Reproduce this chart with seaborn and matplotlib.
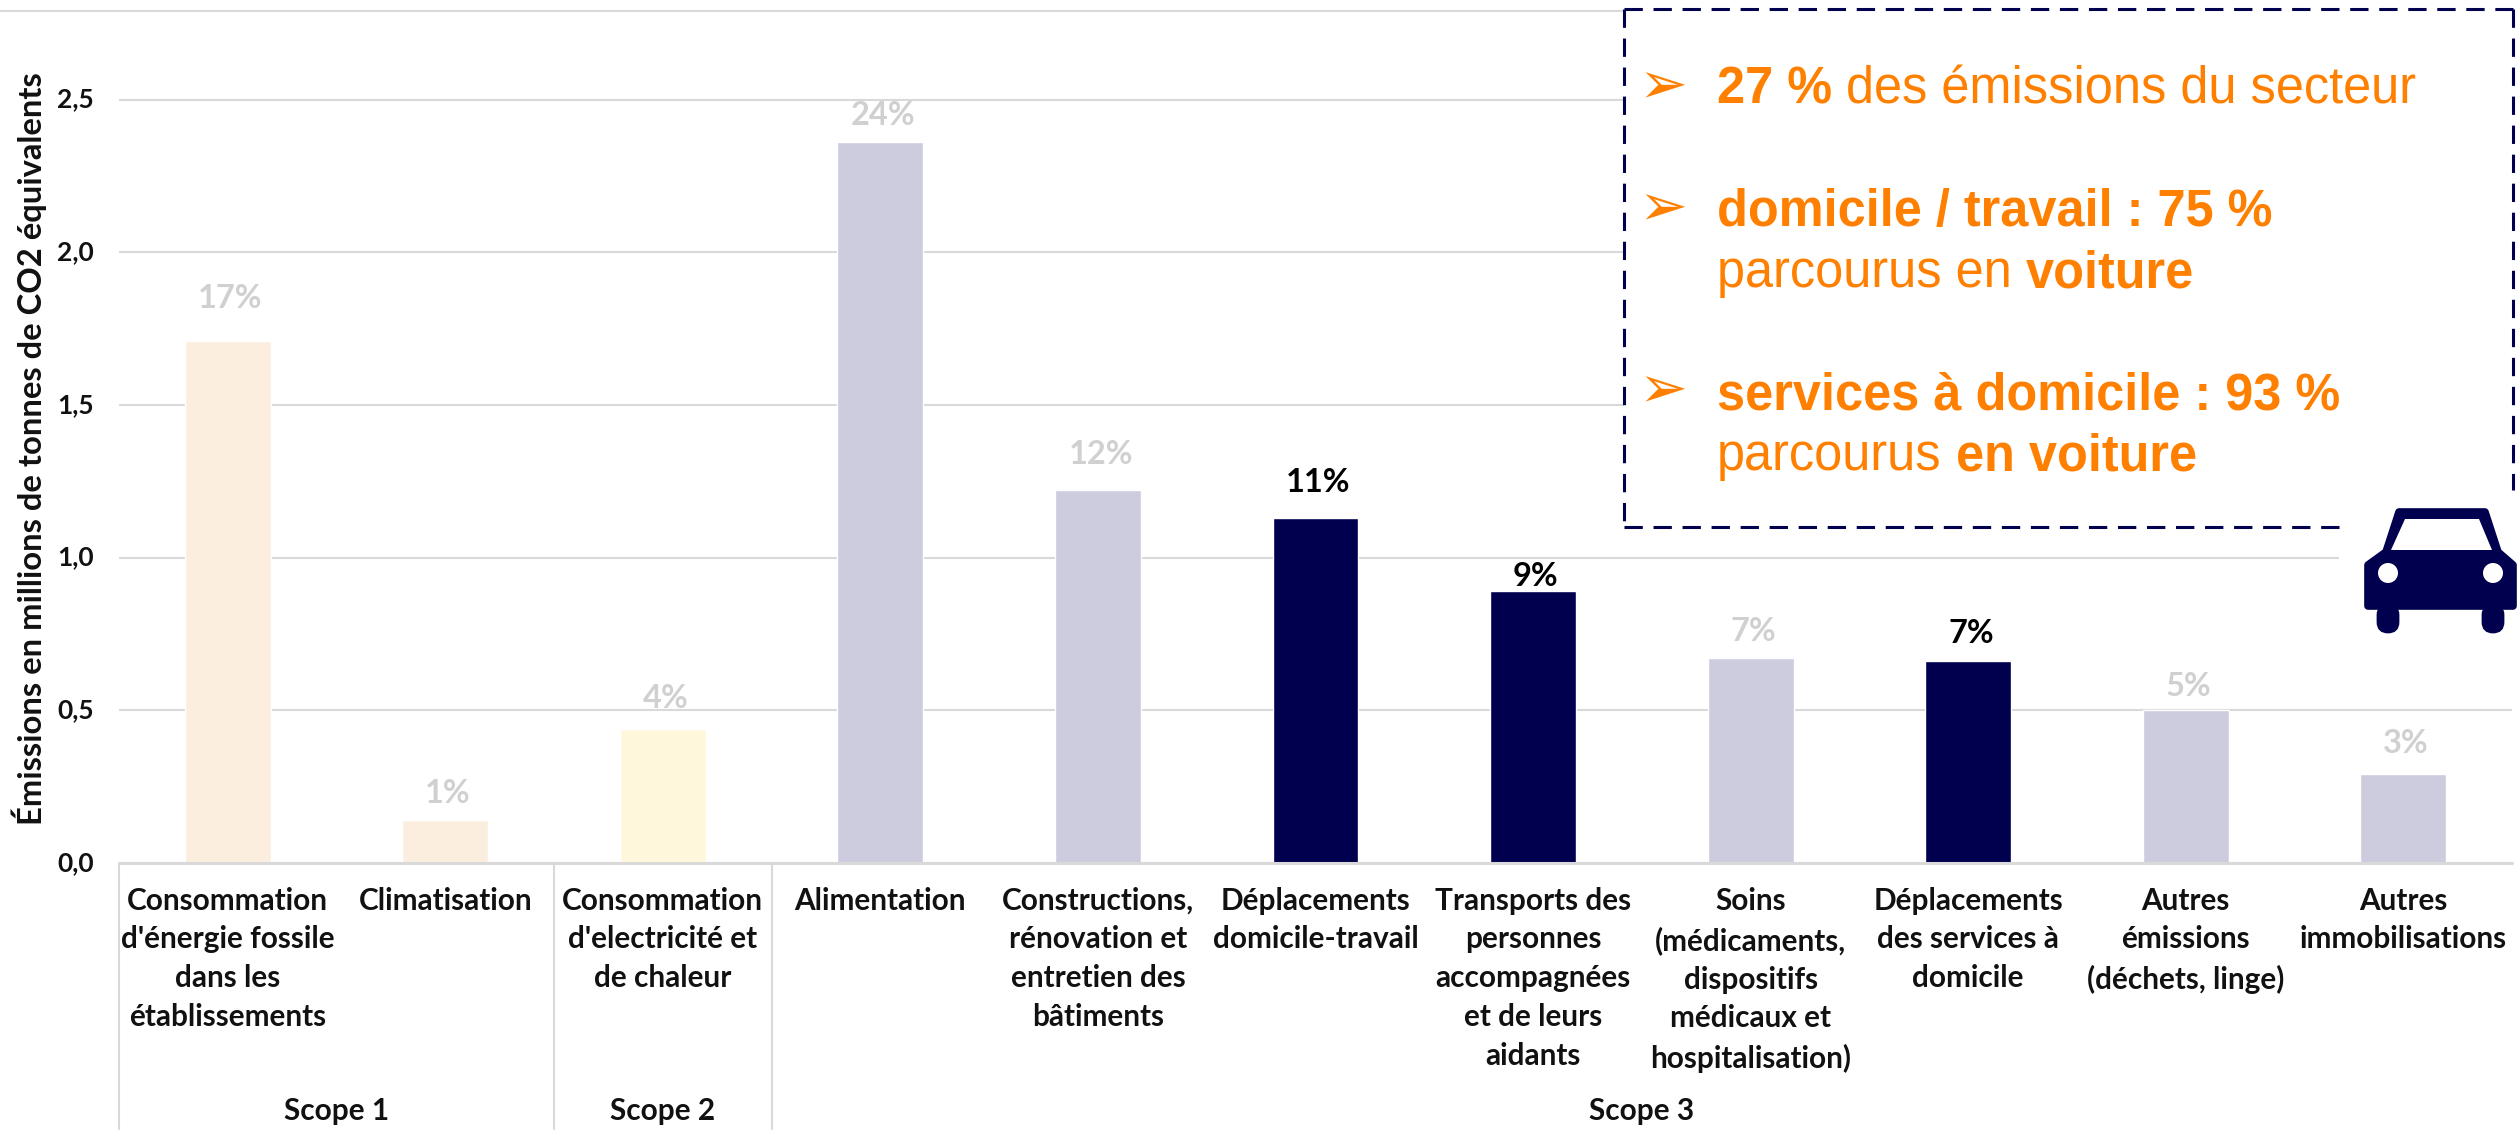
import matplotlib
matplotlib.use("Agg")
import matplotlib.pyplot as plt
import seaborn as sns
import pandas as pd
from matplotlib.lines import Line2D
from matplotlib.patches import Rectangle, Polygon, Circle, FancyBboxPatch
from matplotlib.transforms import Affine2D, ScaledTranslation

categories = ["Consommation\nd'énergie fossile\ndans les\nétablissements", "Climatisation",
              "Consommation\nd'electricité et\nde chaleur", "Alimentation",
              "Constructions,\nrénovation et\nentretien des\nbâtiments",
              "Déplacements\ndomicile-travail",
              "Transports des\npersonnes\naccompagnées\net de leurs\naidants",
              "Soins\n(médicaments,\ndispositifs\nmédicaux et\nhospitalisation)",
              "Déplacements\ndes services à\ndomicile", "Autres\némissions\n(déchets, linge)",
              "Autres\nimmobilisations"]
values = [1.71, 0.14, 0.44, 2.36, 1.22, 1.13, 0.89, 0.67, 0.66, 0.50, 0.29]
shares = ["17%", "1%", "4%", "24%", "12%", "11%", "9%", "7%", "7%", "5%", "3%"]
bar_colors = ["#FCEEDF", "#FCEEDF", "#FFF7DC", "#CDCCDF", "#CDCCDF", "#00004F", "#00004F",
              "#CDCCDF", "#00004F", "#CDCCDF", "#CDCCDF"]
label_colors = ["#D0D0D0", "#D0D0D0", "#D0D0D0", "#D0D0D0", "#D0D0D0", "#000000", "#000000",
                "#D0D0D0", "#000000", "#D0D0D0", "#D0D0D0"]
label_gaps = [42, 27, 30, 27, 36, 35, 15, 27, 28, 24, 31]
scopes = ["Scope 1", "Scope 2", "Scope 3"]
scope_spans = [(0, 2), (2, 3), (3, 11)]
yticks = [0, 0.5, 1.0, 1.5, 2.0, 2.5]
ylabel = "Émissions en millions de tonnes de CO2 équivalents"

W, H = 2517, 1132
GRID = "#D9D9D9"
NAVY = "#00004F"
ORANGE = "#FF8000"
FONT = "Lato"

sns.set_theme(style="white")
plt.rcParams["font.family"] = [FONT, "DejaVu Sans"]

fig = plt.figure(figsize=(W / 100, H / 100), dpi=100, facecolor="white")
L, R, T, B = 119, 2512, 11, 863
ax = fig.add_axes([L / W, 1 - B / H, (R - L) / W, (B - T) / H])
df = pd.DataFrame({"cat": categories, "val": values})
sns.barplot(data=df, x="cat", y="val", hue="cat", palette=bar_colors, width=0.395,
            legend=False, ax=ax, saturation=1, zorder=3)
ax.set_xlim(-0.5, len(categories) - 0.5)
ax.set_ylim(0, (B - T) / 305.4)
ax.set_xlabel("")
ax.set_ylabel("")
for s in ax.spines.values():
    s.set_visible(False)
ax.set_yticks(yticks)
ax.set_yticklabels([f"{v:.1f}".replace(".", ",") for v in yticks], fontsize=19, fontweight="bold",
                   color="#111111")
ax.yaxis.grid(True, color=GRID, lw=1.5)
ax.set_axisbelow(True)
ax.tick_params(axis="y", length=0, pad=18)
for lab in ax.get_yticklabels():
    lab.set_transform(lab.get_transform() + ScaledTranslation(0, 2 / 100, fig.dpi_scale_trans))
ax.set_xticks(range(len(categories)))
ax.set_xticklabels(categories, fontsize=21.4, fontweight="bold", color="#111111", linespacing=1.47)
ax.tick_params(axis="x", length=0, pad=17)

px = Affine2D().scale(1, -1).translate(0, H)

for i, (v, s, c, g) in enumerate(zip(values, shares, label_colors, label_gaps)):
    ax.annotate(s, (i, v), xytext=(2, g * 0.72), textcoords="offset points", ha="center", va="center",
                fontsize=23.5, fontweight="bold", color=c, zorder=4)

def hline(x0, y0, x1, y1, **kw):
    fig.add_artist(Line2D([x0, x1], [y0, y1], transform=px, **kw))

hline(0, 11, 1624, 11, color=GRID, lw=1.5)
hline(L, 863, R, 863, color=GRID, lw=2.2)
for i in [0, 2, 3]:
    x = L + i * (R - L) / 11
    hline(x, 863, x, 1129, color=GRID, lw=1.5)
for name, (a, b) in zip(scopes, scope_spans):
    ax.annotate(name, ((a + b) / 2 - 0.5, 0), xytext=(0, (863 - 1111) * 0.72), textcoords="offset points",
                ha="center", va="center", fontsize=21.4, fontweight="bold", color="#111111",
                annotation_clip=False)

fig.text(29 / W, 1 - 449 / H, ylabel, rotation=90, ha="center", va="center", fontsize=23.6,
         fontweight="bold", color="#111111")

# callout
fig.add_artist(Rectangle((1624, 9), 893, 518, transform=px, fc="white", ec="none", zorder=5))
fig.add_artist(Rectangle((2339, 490), 178, 150, transform=px, fc="white", ec="none", zorder=5))
dash = dict(color=NAVY, lw=2.2, linestyle=(0, (6, 3.5)), zorder=6)
hline(1624, 9, 2513, 9, **dash)
hline(1624, 9, 1624, 527, **dash)
hline(1624, 527, 2339, 527, **dash)
hline(2513, 9, 2513, 490, **dash)

renderer = fig.canvas.get_renderer()
def runs(x, y, parts):
    for txt, bold in parts:
        t = fig.text(x / W, 1 - y / H, txt, fontsize=36.4, family="Liberation Sans",
                     fontweight="bold" if bold else "normal", color=ORANGE, va="baseline", ha="left", zorder=7)
        x += t.get_window_extent(renderer).width + 14

for y in [87, 209, 391]:
    fig.text(1663 / W, 1 - y / H, "\u27a2", fontsize=42, family="DejaVu Sans", color=ORANGE,
             ha="center", va="center", zorder=7)
runs(1717, 104, [("27 %", True), ("des émissions du secteur", False)])
runs(1717, 226, [("domicile / travail : 75 %", True)])
runs(1717, 287, [("parcourus en", False), ("voiture", True)])
runs(1717, 409, [("services à domicile : 93 %", True)])
runs(1717, 470, [("parcourus", False), ("en voiture", True)])

# car icon
fig.add_artist(Polygon([(2399, 512), (2485, 512), (2498, 552), (2513, 565), (2513, 606), (2368, 606),
                        (2368, 565), (2386, 552)], closed=True, transform=px, fc=NAVY, ec=NAVY, lw=5.5,
                       joinstyle="round", zorder=8))
fig.add_artist(Polygon([(2405, 519), (2479, 519), (2492, 550), (2391, 550)], closed=True, transform=px,
                       fc="white", ec="none", zorder=9))
for cx in [2388, 2493]:
    fig.add_artist(FancyBboxPatch((cx - 10, 605), 20, 27, boxstyle="round,pad=0,rounding_size=10",
                                  transform=px, fc=NAVY, ec=NAVY, lw=2, zorder=8))
    fig.add_artist(Circle((cx, 573), 10, transform=px, fc="white", ec="none", zorder=9))

fig.savefig("out.png", dpi=100, facecolor="white")
